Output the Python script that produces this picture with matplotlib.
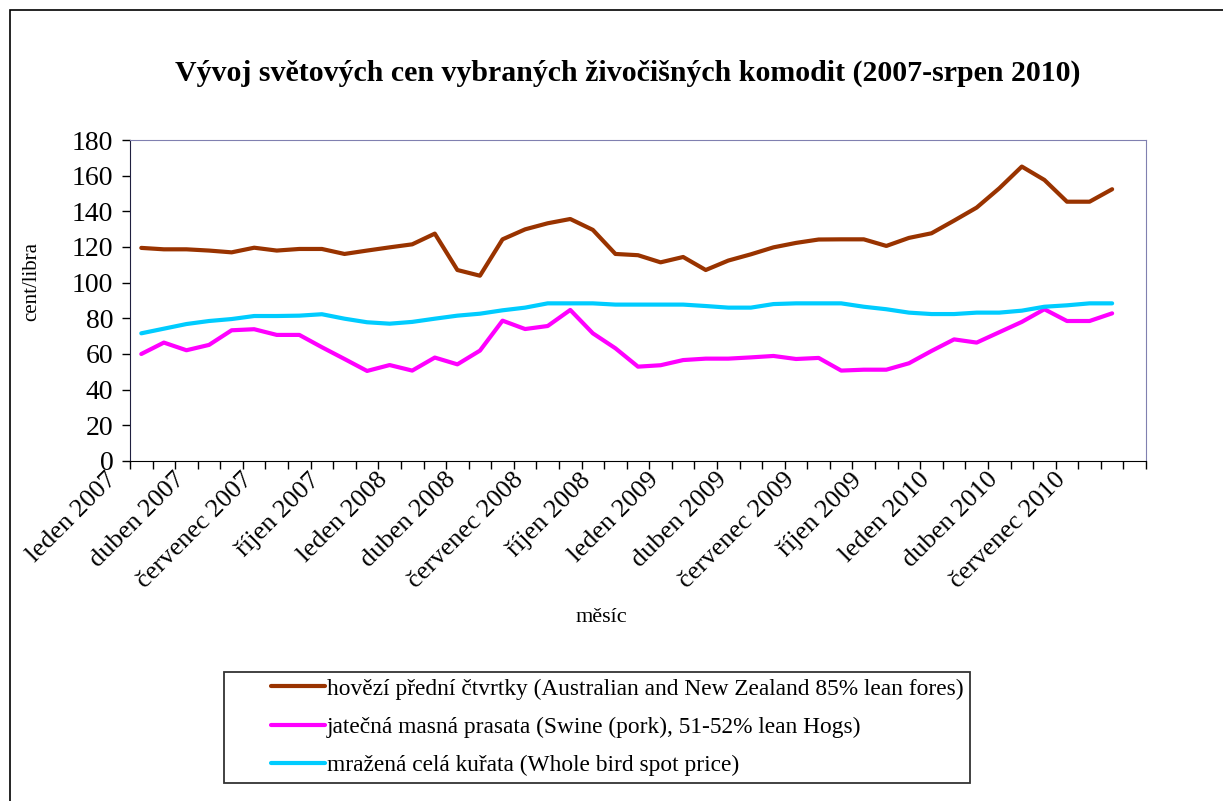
import matplotlib
matplotlib.use('Agg')
import matplotlib.pyplot as plt
import matplotlib.transforms as mtrans
import numpy as np

plt.rcParams['font.family'] = ['Liberation Serif', 'DejaVu Serif']

months = ['leden', 'únor', 'březen', 'duben', 'květen', 'červen',
          'červenec', 'srpen', 'září', 'říjen', 'listopad', 'prosinec']
years = [2007, 2008, 2009, 2010]
labels = [m + ' ' + str(y) for y in years for m in months][:44]

beef = [119.5, 118.7, 118.7, 118.0, 117.0, 119.6, 118.0, 118.9, 118.9, 116.1, 118.0,
        119.8, 121.5, 127.5, 107.1, 103.9, 124.3, 129.9, 133.3, 135.7, 129.6, 116.1,
        115.4, 111.4, 114.4, 107.1, 112.4, 115.9, 119.8, 122.3, 124.2, 124.3, 124.3,
        120.6, 125.1, 127.7, 134.8, 142.1, 152.9, 165.1, 157.6, 145.4, 145.4, 152.4]
pork = [60.0, 66.4, 62.1, 65.1, 73.3, 73.9, 70.7, 70.7, 63.8, 57.2, 50.5,
        53.8, 50.7, 58.0, 54.2, 61.9, 78.7, 74.0, 75.7, 84.7, 71.6, 63.2,
        52.9, 53.7, 56.6, 57.4, 57.4, 58.1, 58.9, 57.2, 57.8, 50.7, 51.2,
        51.2, 54.8, 61.7, 68.2, 66.4, 72.2, 78.0, 85.1, 78.5, 78.5, 82.8]
chicken = [71.6, 74.2, 76.8, 78.5, 79.6, 81.3, 81.3, 81.5, 82.3, 79.8, 77.8,
           77.0, 78.0, 79.8, 81.5, 82.6, 84.5, 86.0, 88.4, 88.4, 88.4, 87.7,
           87.7, 87.7, 87.7, 86.9, 86.0, 86.0, 88.0, 88.4, 88.4, 88.4, 86.5,
           85.1, 83.2, 82.4, 82.4, 83.2, 83.2, 84.3, 86.5, 87.3, 88.4, 88.4]

names = ['hovězí přední čtvrtky (Australian and New Zealand 85% lean fores)',
         'jatečná masná prasata (Swine (pork), 51-52% lean Hogs)',
         'mražená celá kuřata (Whole bird spot price)']

fig = plt.figure(figsize=(12.23, 8.01), dpi=100)
ax = fig.add_axes([130/1223, 1-461/801, 1016/1223, 321/801])

x = np.arange(len(beef))
ax.plot(x, beef, color='#993300', lw=3, solid_capstyle='round', label=names[0])
ax.plot(x, pork, color='#FF00FF', lw=3, solid_capstyle='round', label=names[1])
ax.plot(x, chicken, color='#00CCFF', lw=3, solid_capstyle='round', label=names[2])

ax.set_xlim(-0.5, 44.5)
ax.set_ylim(0, 180)
ax.set_yticks(np.arange(0, 181, 20))
ax.tick_params(axis='y', labelsize=20, length=6, width=1, direction='out', pad=6)

ax.set_xticks(x[::3])
ax.set_xticklabels(labels[::3], rotation=45, ha='right', va='top', fontsize=19)
ax.set_xticks(np.arange(-0.5, 45, 1), minor=True)
ax.tick_params(axis='x', which='major', length=0, pad=2)
ax.tick_params(axis='x', which='minor', length=6, width=1, direction='out')
off = mtrans.ScaledTranslation(-20/100, -5/100, fig.dpi_scale_trans)
for t in ax.get_xticklabels():
    t.set_transform(t.get_transform() + off)

ax.spines['left'].set_color('#202040')
ax.spines['bottom'].set_color('black')
ax.spines['top'].set_color('#8080B0')
ax.spines['right'].set_color('#8080B0')

ax.set_ylabel('cent/libra', fontsize=15)
ax.yaxis.set_label_coords(-89/1016, 0.56)
fig.text(601/1223, 1-617/801, 'měsíc', fontsize=16, ha='center', va='center')

fig.text(628/1223, 1-73/801, 'Vývoj světových cen vybraných živočišných komodit (2007-srpen 2010)',
         fontsize=21.5, fontweight='bold', ha='center', va='center')

# legend frame drawn separately so the entries can sit further right
fig.patches.append(plt.Rectangle((224/1223, 1-783/801), 746/1223, 111/801,
                                 transform=fig.transFigure, fill=False,
                                 edgecolor='#333333', lw=1.3))
leg = ax.legend(loc='center left', bbox_to_anchor=(271/1223, 1-727/801),
                bbox_transform=fig.transFigure, fontsize=16.8, frameon=False,
                borderaxespad=0, borderpad=0, handlelength=2.3,
                handletextpad=0.1, labelspacing=0.72)

fig.patches.append(plt.Rectangle((10/1223, -0.05), 1.1, 1-10/801+0.05,
                                 transform=fig.transFigure, fill=False,
                                 edgecolor='black', lw=1.2))

fig.savefig('out.png', dpi=100)
